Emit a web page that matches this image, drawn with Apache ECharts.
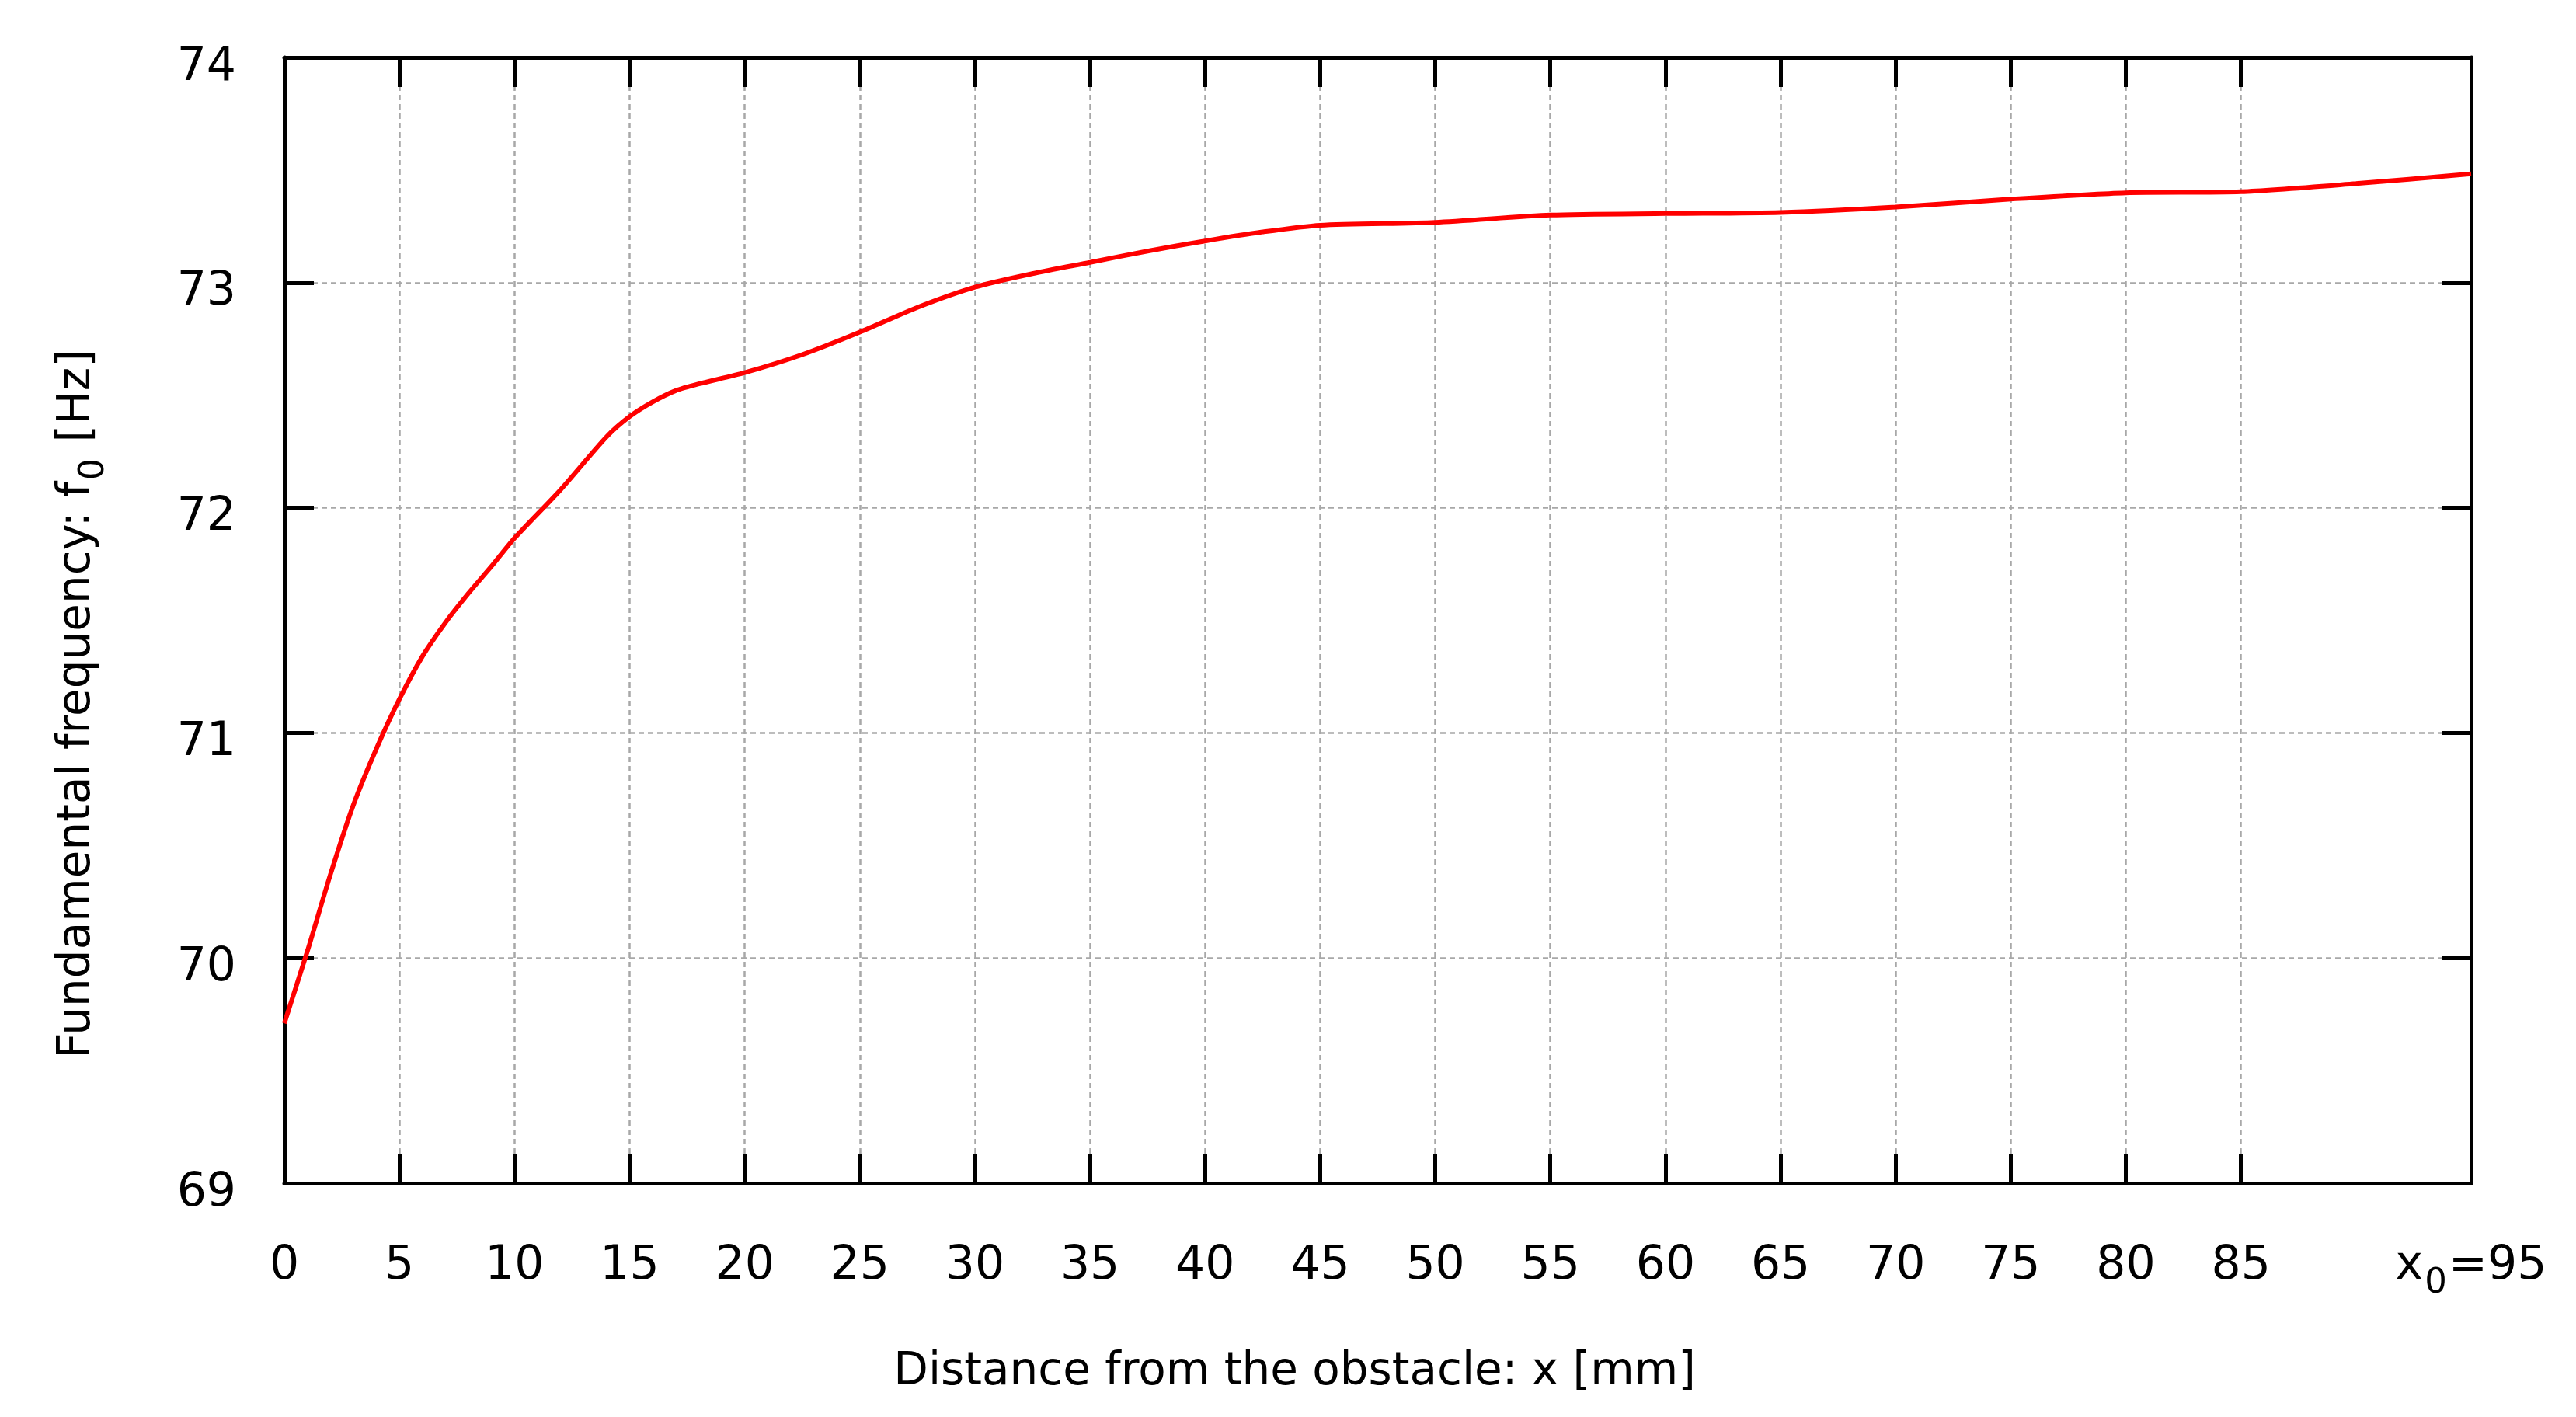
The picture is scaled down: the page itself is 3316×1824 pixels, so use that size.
<!DOCTYPE html>
<html>
<head>
<meta charset="utf-8">
<script src="https://cdn.jsdelivr.net/npm/echarts@6/dist/echarts.min.js"></script>
<style>
html,body{margin:0;padding:0;background:#fff;}
#chart{width:3316px;height:1824px;}
</style>
</head>
<body>
<div id="chart"></div>
<script>
// Distance from the obstacle (mm)
const xValues = [0, 1, 2, 3, 4, 5, 6, 7, 8, 9, 10, 12, 14, 15, 16, 17, 18, 20, 22.5, 25, 27.5, 30, 32.5, 35, 37.5, 40, 42.5, 45, 50, 55, 60, 65, 70, 75, 80, 85, 90, 95];
// Fundamental frequency f0 (Hz)
const fValues = [69.71, 70.03, 70.37, 70.68, 70.93, 71.15, 71.34, 71.49, 71.62, 71.74, 71.865, 72.08, 72.315, 72.405, 72.47, 72.52, 72.55, 72.60, 72.68, 72.78, 72.89, 72.98, 73.04, 73.09, 73.14, 73.185, 73.225, 73.255, 73.268, 73.30, 73.307, 73.312, 73.336, 73.371, 73.399, 73.404, 73.44, 73.483];
// Tick positions / labels
const xTicks = [0, 5, 10, 15, 20, 25, 30, 35, 40, 45, 50, 55, 60, 65, 70, 75, 80, 85, 95];
const xTopTicks = [5, 10, 15, 20, 25, 30, 35, 40, 45, 50, 55, 60, 65, 70, 75, 80, 85];
const x0Value = 95;
const yTicks = [69, 70, 71, 72, 73, 74];
const xAxisName = 'Distance from the obstacle: x [mm]';
const yNameParts = ['Fundamental frequency: f', '0', ' [Hz]'];

const FONT = 'DejaVu Sans';
const seriesData = xValues.map((x, i) => [x, fValues[i]]);

const chart = echarts.init(document.getElementById('chart'));
const tickStyle = { show: true, inside: true, length: 38, lineStyle: { color: '#000', width: 5 } };
const gridStyle = { show: true, lineStyle: { color: '#a8a8a8', width: 2.5, type: [7, 5] } };

chart.setOption({
  backgroundColor: '#ffffff',
  animation: false,
  grid: { left: 366, right: 135, top: 74, bottom: 301, containLabel: false },
  xAxis: [
    {
      type: 'value', position: 'bottom', min: 0, max: 95,
      axisLine: { show: true, onZero: false, lineStyle: { color: '#000', width: 5 } },
      axisTick: Object.assign({}, tickStyle, { customValues: xTicks }),
      axisLabel: {
        customValues: xTicks, margin: 77, color: '#000', fontFamily: FONT, fontSize: 60,
        formatter: function (v) {
          if (v === x0Value) return '{m|x}{s|0}{m|=' + v + '}';
          return '{m|' + v + '}';
        },
        rich: {
          m: { fontFamily: FONT, fontSize: 60, color: '#000', padding: [0, 0, 22, 0] },
          s: { fontFamily: FONT, fontSize: 45, color: '#000', padding: [22, 2, 0, 2] }
        }
      },
      splitLine: gridStyle,
      name: xAxisName, nameLocation: 'middle', nameGap: 215,
      nameTextStyle: { fontFamily: FONT, fontSize: 58, color: '#000', padding: [0, 214, 0, 0] }
    },
    {
      type: 'value', position: 'top', min: 0, max: 95,
      axisLine: { show: true, onZero: false, lineStyle: { color: '#000', width: 5 } },
      axisTick: Object.assign({}, tickStyle, { customValues: xTopTicks }),
      axisLabel: { show: false },
      splitLine: { show: false }
    }
  ],
  yAxis: [
    {
      type: 'value', position: 'left', min: 69, max: 74, interval: 1,
      axisLine: { show: true, onZero: false, lineStyle: { color: '#000', width: 5 } },
      axisTick: tickStyle,
      axisLabel: {
        margin: 62, color: '#000', fontFamily: FONT, fontSize: 60,
        formatter: function (v) { return '{m|' + v + '}'; },
        rich: { m: { fontFamily: FONT, fontSize: 60, color: '#000', padding: [26, 0, 0, 0] } }
      },
      splitLine: gridStyle,
      name: '{m|' + yNameParts[0] + '}{s|' + yNameParts[1] + '}{m|' + yNameParts[2] + '}',
      nameLocation: 'middle', nameGap: 215, nameRotate: 90,
      nameTextStyle: {
        fontFamily: FONT, fontSize: 58, color: '#000', padding: [0, 216, 0, 0],
        rich: {
          m: { fontFamily: FONT, fontSize: 58, color: '#000', padding: [0, 0, 22, 0] },
          s: { fontFamily: FONT, fontSize: 44, color: '#000', padding: [22, 2, 0, 2] }
        }
      }
    },
    {
      type: 'value', position: 'right', min: 69, max: 74, interval: 1,
      axisLine: { show: true, onZero: false, lineStyle: { color: '#000', width: 5 } },
      axisTick: tickStyle,
      axisLabel: { show: false },
      splitLine: { show: false }
    }
  ],
  series: [
    {
      type: 'line', xAxisIndex: 0, yAxisIndex: 0,
      data: seriesData,
      smooth: 0.25,
      showSymbol: false, symbol: 'none',
      lineStyle: { color: '#ff0000', width: 6 },
      z: 3
    }
  ]
});
</script>
</body>
</html>
